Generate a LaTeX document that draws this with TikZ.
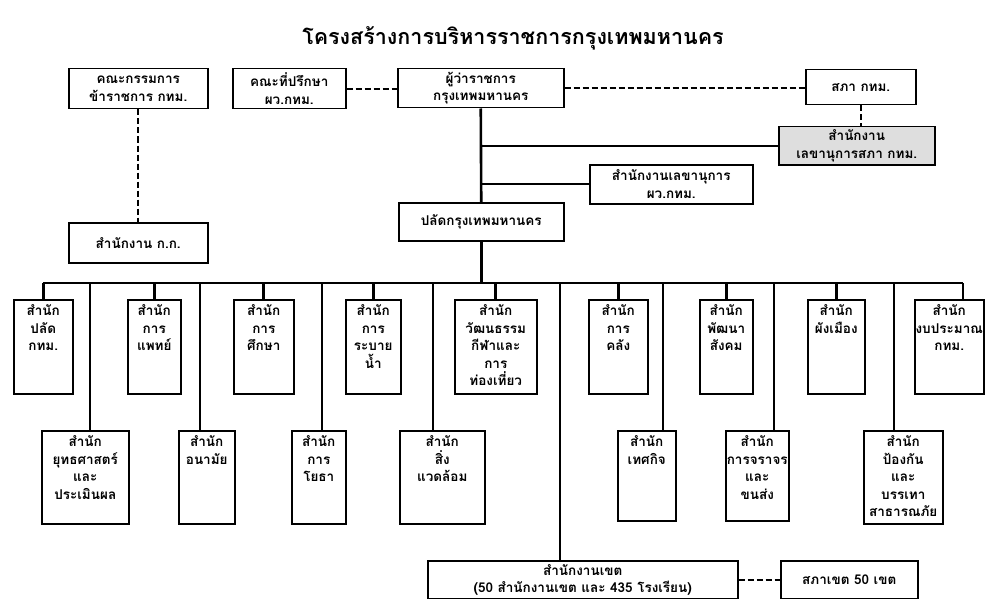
\documentclass[tikz,border=0pt]{standalone}
\usepackage{fontspec}
\newfontfamily\thaifont[Script=Thai]{Loma}
\usetikzlibrary{calc}
\newcommand\boxT[6]{\node[orgbox] (#1) at (#2,#3) {\parbox[c][\dimexpr #5pt-#3pt\relax][t]{\dimexpr #4pt-#2pt\relax}{\centering\vspace{5pt}#6}};}
\newcommand\boxC[6]{\node[orgbox] (#1) at (#2,#3) {\parbox[c][\dimexpr #5pt-#3pt\relax][c]{\dimexpr #4pt-#2pt\relax}{\centering #6}};}
\begin{document}
\begin{tikzpicture}[x=1pt,y=-1pt,
  orgbox/.style={draw, line width=1.5pt, inner sep=0pt, anchor=north west,
    font=\thaifont\bfseries\fontsize{13.5}{17.5}\selectfont},
  solidln/.style={line width=2.6pt},
  thinln/.style={line width=2pt},
  dashln/.style={line width=2pt, dash pattern=on 6pt off 3pt}]
\fill[white] (0,0) rectangle (990,599);
\useasboundingbox (0,0) rectangle (990,599);

\node[font=\thaifont\bfseries\fontsize{21.5}{26}\selectfont] (title) at (513,38) {โครงสร้างการบริหารราชการกรุงเทพมหานคร};

% top level
\boxC{kkb}{68}{68}{207}{108}{คณะกรรมการ\\ข้าราชการ กทม.}
\boxC{adv}{232}{68}{345}{108}{คณะที่ปรึกษา\\ผว.กทม.}
\boxC{gov}{397}{68}{563}{107}{ผู้ว่าราชการ\\กรุงเทพมหานคร}
\boxC{sapha}{805}{69}{915}{104}{สภา กทม.}
\node[orgbox, fill=black!13] (lsapha) at (778,126) {\parbox[c][38pt][c]{156pt}{\centering สำนักงาน\\เลขานุการสภา กทม.}};
\boxC{lkw}{589}{164}{752}{203}{สำนักงานเลขานุการ\\ผว.กทม.}
\boxC{pal}{398}{202}{563}{240}{ปลัดกรุงเทพมหานคร}
\boxC{kk}{68}{222}{207}{262}{สำนักงาน ก.ก.}

% row 1
\boxT{ra}{13}{299}{72}{393}{สำนัก\\ปลัด\\กทม.}
\boxT{rb}{127}{299}{180}{393}{สำนัก\\การ\\แพทย์}
\boxT{rc}{233}{299}{293}{393}{สำนัก\\การ\\ศึกษา}
\boxT{rd}{345}{299}{400}{393}{สำนัก\\การ\\ระบาย\\น้ำ}
\boxT{re}{454}{299}{536}{393}{สำนัก\\วัฒนธรรม\\กีฬาและ\\การ\\ท่องเที่ยว}
\boxT{rf}{588}{299}{647}{393}{สำนัก\\การ\\คลัง}
\boxT{rg}{699}{299}{752}{393}{สำนัก\\พัฒนา\\สังคม}
\boxT{rh}{807}{299}{864}{393}{สำนัก\\ผังเมือง}
\boxT{ri}{914}{299}{983}{393}{สำนัก\\งบประมาณ\\กทม.}

% row 2
\boxT{sa}{41}{430}{128}{523}{สำนัก\\ยุทธศาสตร์\\และ\\ประเมินผล}
\boxT{sb}{178}{430}{234}{523}{สำนัก\\อนามัย}
\boxT{sc}{291}{430}{345}{523}{สำนัก\\การ\\โยธา}
\boxT{sd}{399}{430}{484}{523}{สำนัก\\สิ่ง\\แวดล้อม}
\boxT{se}{617}{430}{675}{520}{สำนัก\\เทศกิจ}
\boxT{sf}{725}{430}{788}{520}{สำนัก\\การจราจร\\และ\\ขนส่ง}
\boxT{sg}{863}{430}{942}{523}{สำนัก\\ป้องกัน\\และ\\บรรเทา\\สาธารณภัย}

% bottom
\boxC{khet}{427}{560}{737}{598}{สำนักงานเขต\\(50 สำนักงานเขต และ 435 โรงเรียน)}
\boxC{sakhet}{780}{560}{917}{598}{สภาเขต 50 เขต}

% bus coordinates
\coordinate (busL) at (43,283);
\coordinate (busR) at (963,283);
\coordinate (ta) at (90,283);
\coordinate (tb) at (200,283);
\coordinate (tc) at (322,283);
\coordinate (td) at (433,283);
\coordinate (tk) at (560,283);
\coordinate (te) at (663,283);
\coordinate (tf) at (774,283);
\coordinate (tg) at (894,283);

% connectors
\draw[dashln] (adv.east) -- (adv.east -| gov.west);
\draw[dashln] (gov.east) -- (gov.east -| sapha.west);
\draw[dashln] (sapha.south) -- (sapha.south |- lsapha.north);
\draw[dashln] (kkb.south) -- (kk.north);
\draw[solidln] (gov.south) -- (pal.north);
\draw[thinln] (lsapha.west -| gov.south) -- (lsapha.west);
\draw[thinln] (lkw.west -| gov.south) -- (lkw.west);
\draw[solidln] ($(kk.south east)+(0,-10)$) -- ($(kk.south east)+(0,-10)$ -| pal.south);
\draw[solidln] (pal.south) -- (pal.south |- busL);
\draw[solidln] (busL) -- (busR);
\foreach \n in {ra,rb,rc,rd,re,rf,rg,rh}{\draw[solidln] (\n.north) -- (\n.north |- busL);}
\draw[solidln] (busR) -- (busR |- ri.north);
\draw[solidln] (ta) -- (ta |- sa.north);
\draw[solidln] (tb) -- (tb |- sb.north);
\draw[solidln] (tc) -- (tc |- sc.north);
\draw[solidln] (td) -- (td |- sd.north);
\draw[solidln] (te) -- (te |- se.north);
\draw[solidln] (tf) -- (tf |- sf.north);
\draw[solidln] (tg) -- (tg |- sg.north);
\draw[solidln] (tk) -- (tk |- khet.north);
\draw[dashln] (khet.east) -- (sakhet.west);
\end{tikzpicture}
\end{document}
